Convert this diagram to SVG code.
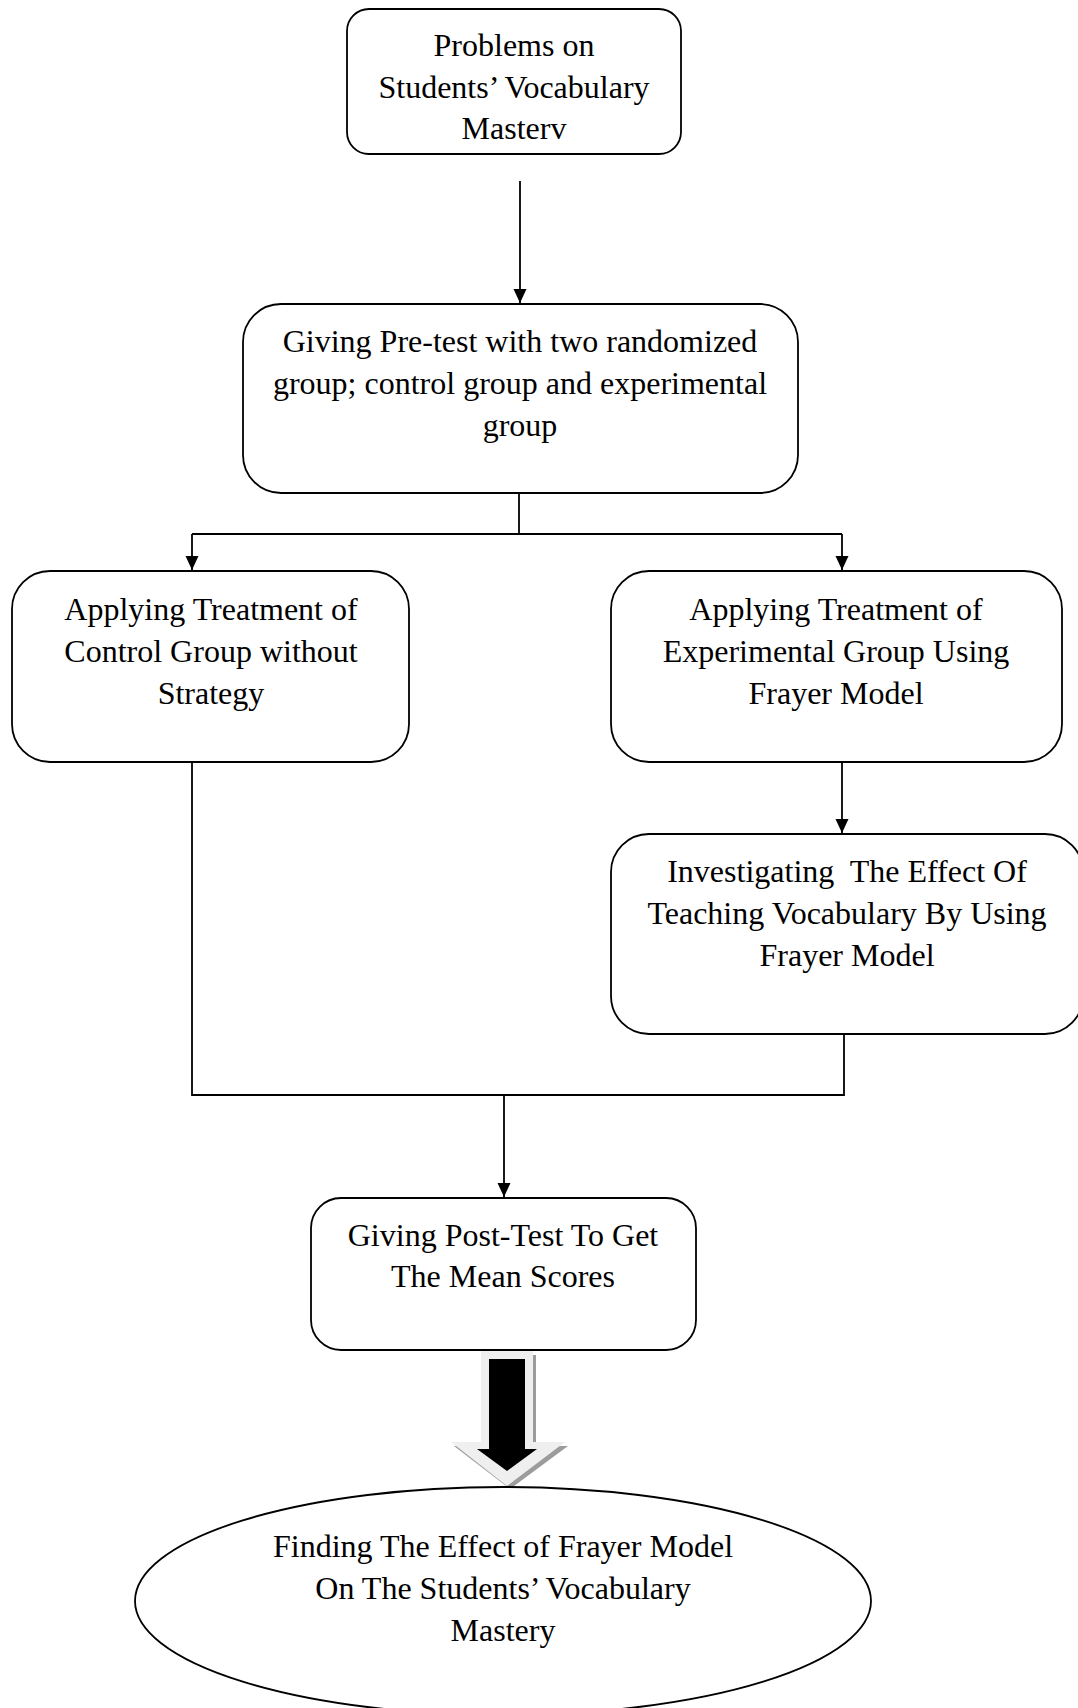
<svg xmlns="http://www.w3.org/2000/svg" width="1078" height="1708" viewBox="0 0 1078 1708">
<style>
  .box { fill: #ffffff; stroke: #000000; stroke-width: 1.8; }
  .lbl { font-family: "Liberation Serif", "Times New Roman", serif; font-size: 32px; fill: #000000; text-anchor: middle; }
  .conn { fill: none; stroke: #000000; stroke-width: 1.8; }
</style>
<defs>
  <marker id="arr" markerUnits="userSpaceOnUse" markerWidth="14" markerHeight="14" refX="14" refY="6.5" orient="auto">
    <path d="M0,0 L14,6.5 L0,13 z" fill="#000000"/>
  </marker>
</defs>
<rect width="1078" height="1708" fill="#ffffff"/>

<g id="connectors">
  <line class="conn" x1="520" y1="181" x2="520" y2="303" marker-end="url(#arr)"/>
  <polyline class="conn" points="519,493 519,534"/>
  <polyline class="conn" points="192,534 842,534"/>
  <line class="conn" x1="192" y1="534" x2="192" y2="570" marker-end="url(#arr)"/>
  <line class="conn" x1="842" y1="534" x2="842" y2="570" marker-end="url(#arr)"/>
  <line class="conn" x1="842" y1="762" x2="842" y2="833" marker-end="url(#arr)"/>
  <polyline class="conn" points="192,762 192,1095 844,1095 844,1034"/>
  <line class="conn" x1="504" y1="1095" x2="504" y2="1197" marker-end="url(#arr)"/>
  <g id="block-arrow">
    <polygon points="484,1355 536,1355 536,1446 568,1446 510,1489 454,1446 484,1446" fill="#9c9c9c"/>
    <polygon points="481,1351 533,1351 533,1442 565,1442 507,1486 451,1442 481,1442" fill="#efefef"/>
    <polygon points="489,1359 525,1359 525,1449 537,1449 507,1471 477,1449 489,1449" fill="#000000"/>
  </g>
</g>

<g id="n1">
  <rect class="box" x="347" y="9" width="334" height="145" rx="22"/>
  <text class="lbl" x="514" y="56">Problems on</text>
  <text class="lbl" x="514" y="98">Students’ Vocabulary</text>
  <text class="lbl" x="514" y="139">Masterv</text>
</g>

<g id="n2">
  <rect class="box" x="243" y="304" width="555" height="189" rx="38"/>
  <text class="lbl" x="520" y="352">Giving Pre-test with two randomized</text>
  <text class="lbl" x="520" y="394">group; control group and experimental</text>
  <text class="lbl" x="520" y="436">group</text>
</g>

<g id="n3">
  <rect class="box" x="12" y="571" width="397" height="191" rx="38"/>
  <text class="lbl" x="211" y="620">Applying Treatment of</text>
  <text class="lbl" x="211" y="662">Control Group without</text>
  <text class="lbl" x="211" y="704">Strategy</text>
</g>

<g id="n4">
  <rect class="box" x="611" y="571" width="451" height="191" rx="38"/>
  <text class="lbl" x="836" y="620">Applying Treatment of</text>
  <text class="lbl" x="836" y="662">Experimental Group Using</text>
  <text class="lbl" x="836" y="704">Frayer Model</text>
</g>

<g id="n5">
  <rect class="box" x="611" y="834" width="472" height="200" rx="38"/>
  <text class="lbl" x="847" y="882" xml:space="preserve">Investigating  The Effect Of</text>
  <text class="lbl" x="847" y="924">Teaching Vocabulary By Using</text>
  <text class="lbl" x="847" y="966">Frayer Model</text>
</g>

<g id="n6">
  <rect class="box" x="311" y="1198" width="385" height="152" rx="30"/>
  <text class="lbl" x="503" y="1246">Giving Post-Test To Get</text>
  <text class="lbl" x="503" y="1287">The Mean Scores</text>
</g>

<g id="n7">
  <ellipse class="box" cx="503" cy="1601" rx="368" ry="114"/>
  <text class="lbl" x="503" y="1557">Finding The Effect of Frayer Model</text>
  <text class="lbl" x="503" y="1599">On The Students’ Vocabulary</text>
  <text class="lbl" x="503" y="1641">Mastery</text>
</g>
</svg>
